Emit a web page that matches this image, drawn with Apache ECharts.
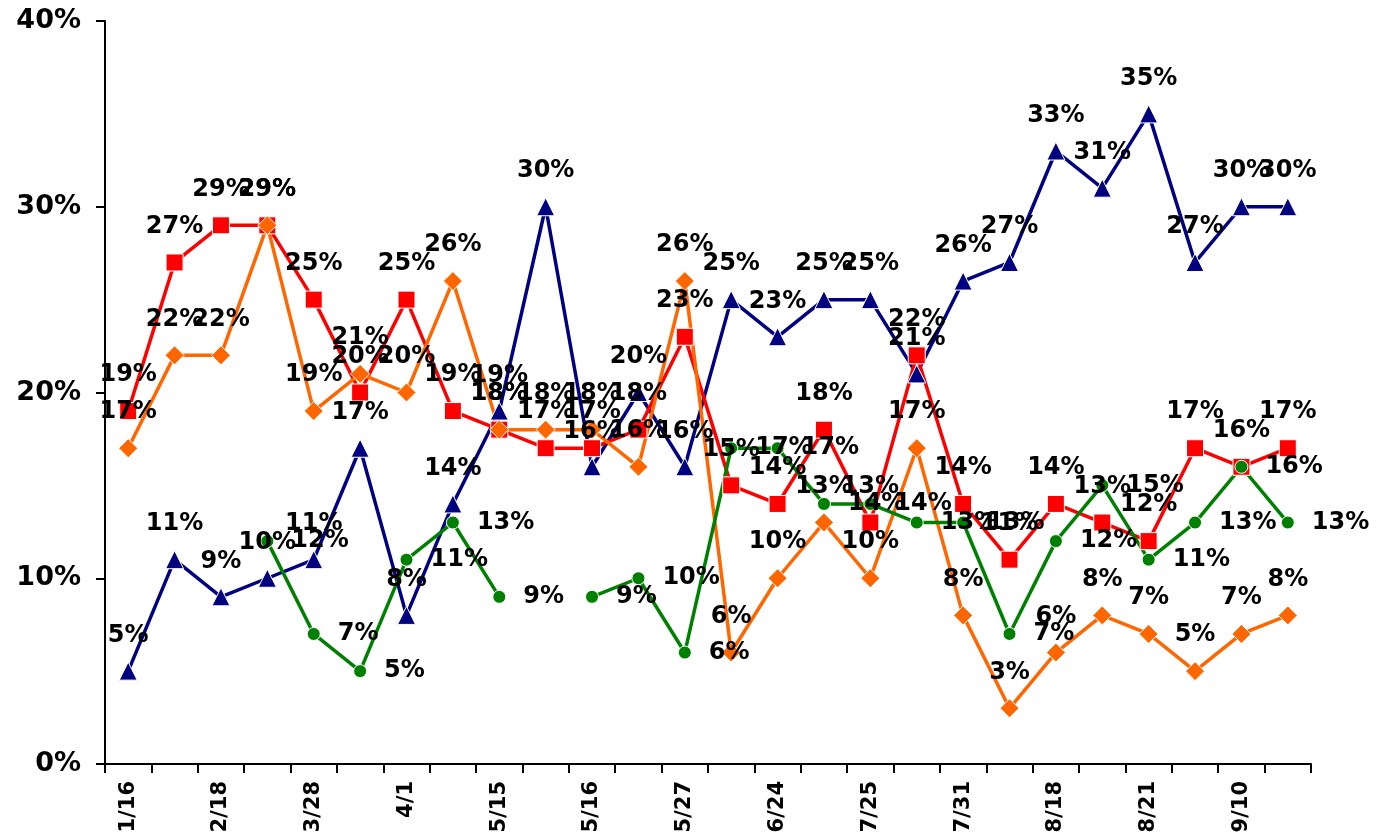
<!DOCTYPE html>
<html>
<head>
<meta charset="utf-8">
<title>chart</title>
<script src="https://cdn.jsdelivr.net/npm/echarts@6/dist/echarts.min.js"></script>
<style>
    html,body{margin:0;padding:0;background:#fff;}
    #main{width:1391px;height:836px;}
</style>
</head>
<body>
<div id="main"></div>
<script>
//x轴日期(只显示隔一个的标签)
var dates = ['1/16','','2/18','','3/28','','4/1','','5/15','','5/16','','5/27','','6/24','','7/25','','7/31','','8/18','','8/21','','9/10',''];
var yTicks = [0,10,20,30,40];
//四条线的数值(%)
var navyVals   = [5,11,9,10,11,17,8,14,19,30,16,20,16,25,23,25,25,21,26,27,33,31,35,27,30,30];
var redVals    = [19,27,29,29,25,20,25,19,18,17,17,18,23,15,14,18,13,22,14,11,14,13,12,17,16,17];
var orangeVals = [17,22,22,29,19,21,20,26,18,18,18,16,26,6,10,13,10,17,8,3,6,8,7,5,7,8];
var greenVals  = [null,null,null,12,7,5,11,13,9,null,9,10,6,17,17,14,14,13,13,7,12,15,11,13,16,13];

var labelFont = {fontFamily:'DejaVu Sans',fontWeight:'bold',fontSize:24,color:'#000'};

function makeLine(name,data,color,symbol,size,pos,dist){
    return {
        name: name,
        type: 'line',
        data: data,
        symbol: symbol,
        symbolSize: size,
        connectNulls: false,
        lineStyle: {color:color,width:3.5},
        itemStyle: {color:color,borderColor:'#fff',borderWidth:1},
        label: {
            show: true,
            position: pos,
            distance: dist,
            formatter: '{c}%',
            fontFamily: labelFont.fontFamily,
            fontWeight: labelFont.fontWeight,
            fontSize: labelFont.fontSize,
            color: labelFont.color
        },
        emphasis: {disabled:true},
        animation: false
    };
}

function setChart(id){
    var e = echarts.init(document.getElementById(id));
    var option = {
        backgroundColor: '#fff',
        grid: {left:105,right:80,top:21,bottom:72,containLabel:false},
        xAxis: {
            type: 'category',
            data: dates,
            boundaryGap: true,
            axisLine: {lineStyle:{color:'#000',width:2}},
            axisTick: {show:true,length:9,interval:0,lineStyle:{color:'#000',width:2}},
            axisLabel: {
                interval: 0,
                rotate: 90,
                margin: 17,
                fontFamily: 'DejaVu Sans',
                fontWeight: 'bold',
                fontSize: 21,
                color: '#000'
            },
            splitLine: {show:false}
        },
        yAxis: {
            type: 'value',
            min: yTicks[0],
            max: yTicks[yTicks.length-1],
            interval: 10,
            axisLine: {show:true,lineStyle:{color:'#000',width:2}},
            axisTick: {show:true,length:9,lineStyle:{color:'#000',width:2}},
            axisLabel: {
                formatter: '{value}%',
                margin: 24,
                fontFamily: 'DejaVu Sans',
                fontWeight: 'bold',
                fontSize: 27,
                color: '#000'
            },
            splitLine: {show:false}
        },
        series: [
            makeLine('navy',navyVals,'#000080','triangle',18,'top',14),
            makeLine('red',redVals,'#FF0000','rect',17,'top',15),
            makeLine('orange',orangeVals,'#FF6600','diamond',19,'top',14),
            makeLine('green',greenVals,'#008000','circle',13,'right',17)
        ]
    };
    e.setOption(option);
}
setChart('main');
</script>
</body>
</html>
